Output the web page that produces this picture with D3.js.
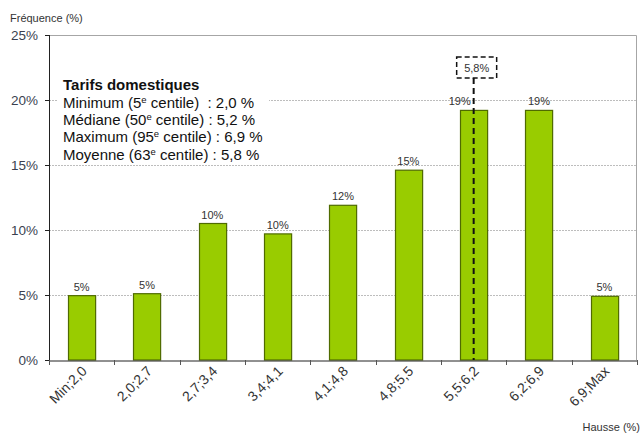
<!DOCTYPE html>
<html><head><meta charset="utf-8">
<script src="https://cdn.jsdelivr.net/npm/d3@7/dist/d3.min.js"></script>
<style>body{margin:0;background:#fff;} svg{display:block;font-family:"Liberation Sans",Arial,sans-serif;}</style>
</head><body><svg id="c" width="641" height="434"></svg>
<script>
const categories = ["Min;2,0","2,0;2,7","2,7;3,4","3,4;4,1","4,1;4,8","4,8;5,5","5,5;6,2","6,2;6,9","6,9;Max"];
const values = [4.95, 5.1, 10.5, 9.7, 11.9, 14.6, 19.2, 19.2, 4.9];
const valueLabels = ["5%","5%","10%","10%","12%","15%","19%","19%","5%"];
const yTicks = [0,5,10,15,20,25];
const legendTitle = "Tarifs domestiques";
const legendLines = [
  ["Minimum (5","e"," centile)  : 2,0 %"],
  ["Médiane (50","e"," centile) : 5,2 %"],
  ["Maximum (95","e"," centile) : 6,9 %"],
  ["Moyenne (63","e"," centile) : 5,8 %"]
];
const meanCategory = "5,5;6,2";
const meanLabel = "5,8%";

const svg = d3.select("#c");
const L = 49, R = 637, T = 35, B = 360;
const x = d3.scaleBand().domain(categories).range([L, R]).paddingInner(0.585).paddingOuter(0.2925);
const xb = d3.scaleBand().domain(categories).range([L, R]);
const y = d3.scaleLinear().domain([0,25]).range([B, T]);

// gridlines
svg.append("g").selectAll("line").data(yTicks.filter(d=>d>0 && d<25)).join("line")
  .attr("x1", L).attr("x2", R-1).attr("y1", d=>y(d)+0.5).attr("y2", d=>y(d)+0.5)
  .attr("stroke","#bdbdbd").attr("stroke-dasharray","2,1");
// top & right border
svg.append("path").attr("d", `M${L},${y(25)+0.5}H${R-0.5}V${B}`).attr("fill","none").attr("stroke","#a6a6a6").attr("stroke-width",1);

// legend box (white)
const lg = svg.append("g");
lg.append("rect").attr("x",57).attr("y",72).attr("width",212).attr("height",92).attr("fill","#fff");
lg.append("text").attr("x",63).attr("y",90).attr("font-size",15).attr("font-weight","bold").attr("fill","#111").text(legendTitle);
legendLines.forEach((p,i)=>{
  const t = lg.append("text").attr("x",63).attr("y",108+i*17.2).attr("font-size",15).attr("fill","#111")
    .style("white-space","pre");
  t.append("tspan").text(p[0]);
  t.append("tspan").attr("font-size",9.5).attr("dy",-5).text(p[1]);
  t.append("tspan").attr("dy",5).text(p[2]);
});

// bars
svg.append("g").selectAll("rect").data(categories).join("rect")
  .attr("x", d=>Math.round(x(d))+0.5).attr("width", x.bandwidth())
  .attr("y", (d,i)=>y(values[i])).attr("height",(d,i)=>B-y(values[i]))
  .attr("fill","#99cc00").attr("stroke","#4f6b00").attr("stroke-width",1.2);

// value labels
svg.append("g").selectAll("text").data(categories).join("text")
  .attr("x", d=> xb(d)+xb.bandwidth()/2 - (d===meanCategory?14:0))
  .attr("y", (d,i)=>y(values[i]) - 5)
  .attr("text-anchor","middle").attr("font-size",11).attr("fill","#333")
  .text((d,i)=>valueLabels[i]);

// mean dashed line & box
const mx = xb(meanCategory)+xb.bandwidth()/2;
svg.append("line").attr("x1",mx).attr("x2",mx).attr("y1",78).attr("y2",B)
  .attr("stroke","#111").attr("stroke-width",2).attr("stroke-dasharray","6,4");
svg.append("rect").attr("x",mx-17).attr("y",57).attr("width",40).attr("height",21)
  .attr("fill","#fff").attr("stroke","#111").attr("stroke-width",1.5).attr("stroke-dasharray","5,3");
svg.append("text").attr("x",mx+3).attr("y",71.5).attr("text-anchor","middle").attr("font-size",11).attr("fill","#333").text(meanLabel);

// y axis
svg.append("line").attr("x1",L+0.5).attr("x2",L+0.5).attr("y1",T).attr("y2",B).attr("stroke","#222");
svg.append("g").selectAll("line").data(yTicks).join("line")
  .attr("x1",L-4).attr("x2",L).attr("y1",d=>y(d)+0.5).attr("y2",d=>y(d)+0.5).attr("stroke","#222");
svg.append("g").selectAll("text").data(yTicks).join("text")
  .attr("x",38).attr("y",d=>y(d)+5).attr("text-anchor","end").attr("font-size",13.5).attr("fill","#3a3f4f")
  .text(d=>d+"%");

// x axis
const xAxis = svg.append("g").attr("transform",`translate(0,${B+0.5})`)
  .call(d3.axisBottom(xb).tickSize(0).tickFormat(""));
xAxis.select(".domain").attr("stroke","#222");
svg.append("g").selectAll("line").data(categories.concat(["_end"])).join("line")
  .attr("x1",(d,i)=>Math.round(L+i*xb.bandwidth())+0.5).attr("x2",(d,i)=>Math.round(L+i*xb.bandwidth())+0.5)
  .attr("y1",B).attr("y2",B+5).attr("stroke","#555");
svg.append("g").selectAll("text").data(categories).join("text")
  .attr("transform", d=>`translate(${xb(d)+xb.bandwidth()/2+6},${B+12}) rotate(-45)`)
  .attr("text-anchor","end").attr("font-size",14).attr("fill","#333")
  .text(d=>d);

// axis titles
svg.append("text").attr("x",10).attr("y",22).attr("font-size",11).attr("fill","#333").text("Fréquence (%)");
svg.append("text").attr("x",640).attr("y",431).attr("text-anchor","end").attr("font-size",11).attr("fill","#333").text("Hausse (%)");
</script></body></html>
